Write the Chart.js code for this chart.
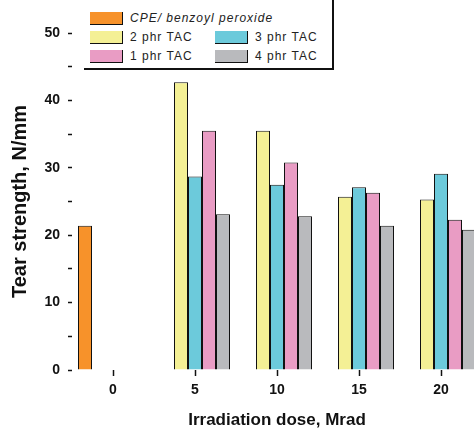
<!DOCTYPE html>
<html>
<head>
<meta charset="utf-8">
<script src="https://cdn.jsdelivr.net/npm/chart.js@4"></script>
<style>
    html, body { margin: 0; padding: 0; background: #fff; overflow: hidden; }
    #wrap { position: relative; width: 474px; height: 429px; overflow: hidden; }
    #legend {
        position: absolute; left: 84px; top: 0; width: 248px; height: 68px;
        background: #fff; border-right: 2px solid #111; border-bottom: 2px solid #111;
        font-family: "Liberation Sans", Arial, sans-serif; font-size: 12px; color: #222;
    }
    .item { position: absolute; display: flex; align-items: center; height: 14px; letter-spacing: 1px; }
    .swatch { width: 32px; height: 12px; margin-right: 7px; border-right: 1.5px solid #111; border-bottom: 1.5px solid #111; }
</style>
</head>
<body>
<div id="wrap">
    <canvas id="tearChart" width="484" height="429"></canvas>
    <div id="legend"></div>
</div>
<script>
const doses = ["0", "5", "10", "15", "20"];
const seriesLabels = ["CPE/ benzoyl peroxide", "2 phr TAC", "3 phr TAC", "1 phr TAC", "4 phr TAC"];
const seriesColors = ["#f7922a", "#f4f095", "#6ccadb", "#e99cc4", "#b9babd"];

const peroxide = [21.4, null, null, null, null];
const tac2 = [null, 42.7, 35.5, 25.7, 25.3];
const tac3 = [null, 28.7, 27.5, 27.1, 29.1];
const tac1 = [null, 35.5, 30.8, 26.3, 22.3];
const tac4 = [null, 23.1, 22.8, 21.4, 20.8];

const seriesValues = [peroxide, tac2, tac3, tac1, tac4];

const datasets = seriesValues.map((values, i) => ({
    label: seriesLabels[i],
    data: values,
    backgroundColor: seriesColors[i],
    borderColor: "#111",
    borderWidth: 1,
}));

const tearChart = new Chart(document.getElementById("tearChart"), {
    type: "bar",
    data: {
        labels: doses,
        datasets: datasets,
    },
    options: {
        responsive: false,
        animation: false,
        layout: {
            padding: { top: 33, right: 2, left: 0, bottom: 0 },
        },
        datasets: {
            bar: {
                categoryPercentage: 70 / 82, // 14px bars on whole pixels, so neighbours touch
                barPercentage: 1.0,
            },
        },
        scales: {
            x: {
                border: { display: false },
                grid: {
                    offset: false,
                    drawOnChartArea: false,
                    tickLength: 6,
                    tickColor: "#111",
                    tickWidth: 1.5,
                },
                ticks: {
                    padding: 6,
                    color: "#111",
                    font: { family: "Liberation Sans", size: 14, weight: "bold" },
                },
                title: {
                    display: true,
                    text: "Irradiation dose, Mrad",
                    color: "#111",
                    font: { family: "Liberation Sans", size: 17, weight: "bold", lineHeight: 1 },
                    padding: { top: 4, bottom: 0 },
                },
                afterFit: (scale) => {
                    scale.height = 59;
                },
            },
            y: {
                min: 0,
                max: 50,
                border: { display: false },
                grid: {
                    drawOnChartArea: false,
                    tickLength: 4,
                    tickColor: "#111",
                    tickWidth: 1.5,
                },
                ticks: {
                    stepSize: 5,
                    padding: 8,
                    color: "#111",
                    font: { family: "Liberation Sans", size: 14, weight: "bold" },
                    callback: (value) => (value % 10 === 0 ? value : ""),
                },
                title: {
                    display: true,
                    text: "Tear strength, N/mm",
                    color: "#111",
                    font: { family: "Liberation Sans", size: 20, weight: "bold" },
                    padding: { top: 8, bottom: 0 },
                },
                afterFit: (scale) => {
                    scale.width = 72;
                },
            },
        },
        plugins: {
            legend: { display: false },
            tooltip: { enabled: false },
        },
    },
});

// Legend built from the chart's own datasets
const legendPos = [
    { left: 6, top: 11 },
    { left: 6, top: 30 },
    { left: 131, top: 30 },
    { left: 6, top: 49 },
    { left: 131, top: 49 },
];
const legendBox = document.getElementById("legend");
tearChart.data.datasets.forEach((ds, i) => {
    const item = document.createElement("div");
    item.className = "item";
    item.style.left = legendPos[i].left + "px";
    item.style.top = legendPos[i].top + "px";
    const sw = document.createElement("span");
    sw.className = "swatch";
    sw.style.background = ds.backgroundColor;
    const txt = document.createElement("span");
    txt.textContent = ds.label;
    if (i === 0) txt.style.fontStyle = "italic";
    item.appendChild(sw);
    item.appendChild(txt);
    legendBox.appendChild(item);
});
</script>
</body>
</html>
